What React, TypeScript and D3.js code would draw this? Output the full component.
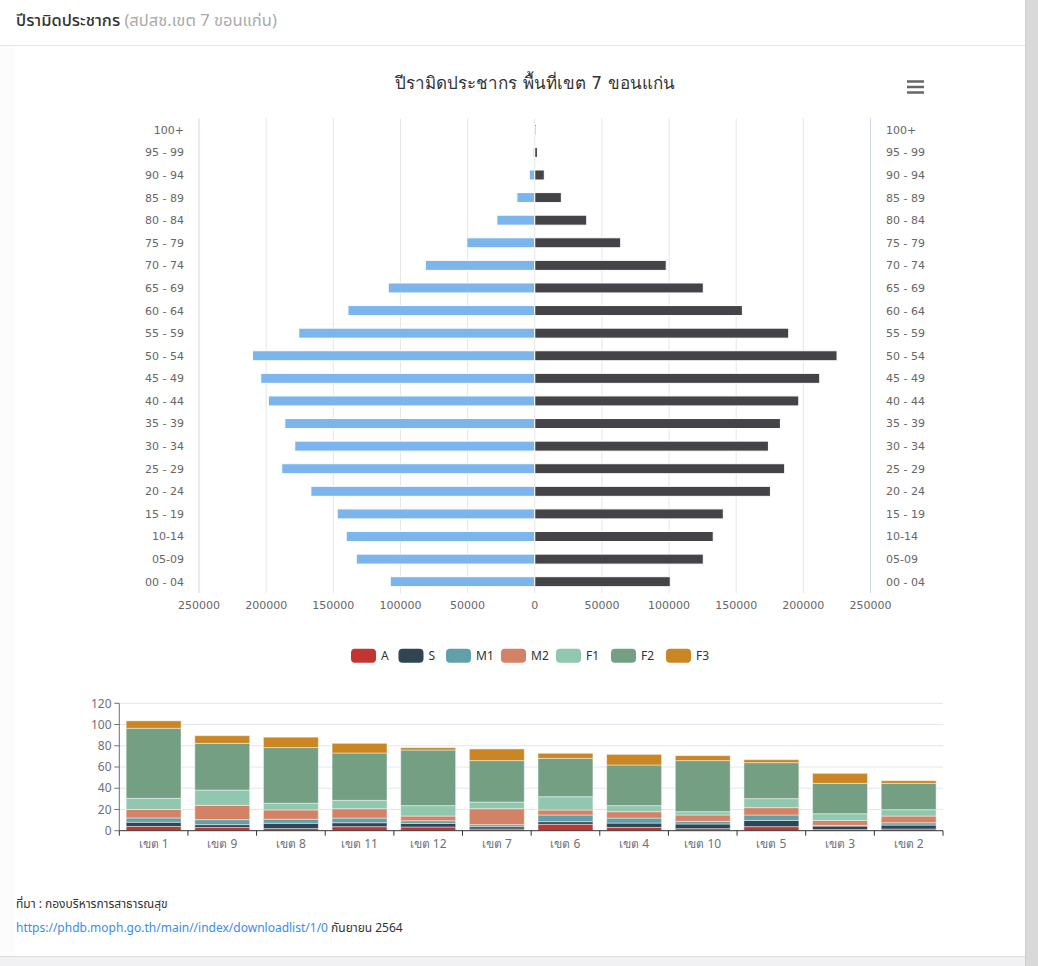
import React from "react";
import * as d3 from "d3";

// ---------- Pyramid data ----------
const ageGroups = [
  "100+", "95 - 99", "90 - 94", "85 - 89", "80 - 84", "75 - 79", "70 - 74",
  "65 - 69", "60 - 64", "55 - 59", "50 - 54", "45 - 49", "40 - 44", "35 - 39",
  "30 - 34", "25 - 29", "20 - 24", "15 - 19", "10-14", "05-09", "00 - 04",
];
const leftSeries = [
  700, 1200, 4100, 13300, 28200, 50600, 81500, 109100, 139100, 175700, 210200,
  204000, 198300, 186100, 178700, 188400, 166700, 147100, 140400, 132900, 107600,
];
const rightSeries = [
  800, 2000, 7100, 19800, 38700, 64000, 97900, 125500, 154600, 189100, 225100,
  212200, 196600, 182900, 174000, 186100, 175500, 140400, 132900, 125500, 100900,
];
const pyramidTicks = [-250000, -200000, -150000, -100000, -50000, 0, 50000, 100000, 150000, 200000, 250000];

// ---------- Stacked bar data ----------
const regions = ["เขต 1", "เขต 9", "เขต 8", "เขต 11", "เขต 12", "เขต 7", "เขต 6", "เขต 4", "เขต 10", "เขต 5", "เขต 3", "เขต 2"];
const seriesNames = ["A", "S", "M1", "M2", "F1", "F2", "F3"];
const valA = [4, 3, 2, 3.8, 3.5, 1.6, 6, 3.1, 1.9, 3.8, 1, 1.6];
const valS = [4, 2.7, 5, 3.7, 3.4, 2.2, 2.5, 4.1, 4.4, 5.9, 3.4, 3.7];
const valM1 = [4, 4.7, 3.8, 4.4, 2.5, 1.9, 6.3, 4.7, 2.5, 5.1, 0.6, 2.2];
const valM2 = [8, 13.5, 8.8, 8.8, 4.4, 15, 4.7, 6, 6, 6.9, 4.7, 6.3];
const valF1 = [10.5, 14.4, 6.3, 7.9, 9.8, 6.3, 12.5, 5.7, 3.1, 8.5, 6.3, 6];
const valF2 = [66, 44, 52.4, 44.6, 52.4, 39, 36.2, 38.3, 48.1, 33.9, 28.6, 24.8];
const valF3 = [7, 7.2, 9.8, 9.1, 2.2, 11, 4.7, 10, 4.7, 2.8, 9.4, 2.5];
const barTicks = [0, 20, 40, 60, 80, 100, 120];
const seriesColors = ["#c23531", "#2f4554", "#61a0a8", "#d48265", "#91c7ae", "#749f83", "#ca8622"];

const HC_FONT = '"DejaVu Sans", Verdana, sans-serif';
const EC_FONT = '"Noto Sans", "Open Sans", sans-serif';
const TH_FONT = '"Noto Sans", "Noto Sans Thai", sans-serif';

export default function App() {
  // Pyramid scales
  const px = d3.scaleLinear().domain([-250000, 250000]).range([199, 870.5]);
  const py = d3.scaleBand<string>().domain(ageGroups).range([118.5, 593]);
  const barH = 10;

  // Stacked bar scales
  const table = regions.map((r, i) => ({
    region: r,
    A: valA[i], S: valS[i], M1: valM1[i], M2: valM2[i], F1: valF1[i], F2: valF2[i], F3: valF3[i],
  }));
  const stack = d3.stack<any>().keys(seriesNames)(table);
  const bx = d3.scaleBand<string>().domain(regions).range([119.3, 943]).paddingInner(0.2).paddingOuter(0.1);
  const by = d3.scaleLinear().domain([0, 120]).range([830.7, 703.3]);
  const step = bx.step();
  const bandStart = 119.3;

  // legend layout
  const legendWidths = seriesNames.map((n) => 25 + 5 + n.length * 7.5);
  const legendTotal = legendWidths.reduce((a, b) => a + b, 0) + 10 * (seriesNames.length - 1);
  let lx = 531 - legendTotal / 2;
  const legendPos = legendWidths.map((w) => {
    const p = lx;
    lx += w + 10;
    return p;
  });

  return (
    <div style={{ position: "absolute", left: 0, top: 0, width: 1038, height: 966 }}>
      <svg width={1038} height={966} style={{ display: "block" }}>
        {/* page / card */}
        <rect x={0} y={0} width={1038} height={966} fill="#fcfcfc" />
        <rect x={0} y={0} width={1025} height={45} fill="#ffffff" />
        <line x1={0} x2={1025} y1={45.5} y2={45.5} stroke="#e6e6e6" />
        <rect x={15} y={46} width={1010} height={910} fill="#ffffff" />
        <rect x={1025} y={0} width={13} height={966} fill="#d9d9d9" />
        <line x1={1025.5} x2={1025.5} y1={0} y2={966} stroke="#cfcfcf" />
        <rect x={0} y={956} width={1025} height={10} fill="#f1f1f4" />
        <line x1={0} x2={1025} y1={956.5} y2={956.5} stroke="#dedede" />

        {/* header */}
        <text x={16} y={26} fontFamily={TH_FONT} fontSize={16.5} fontWeight={500} fill="#333">
          ปีรามิดประชากร <tspan fill="#aaaaaa" fontWeight={400}>(สปสช.เขต 7 ขอนแก่น)</tspan>
        </text>

        {/* pyramid title */}
        <text x={535} y={89} textAnchor="middle" fontFamily={HC_FONT} fontSize={17} fill="#333333">
          ปีรามิดประชากร พื้นที่เขต 7 ขอนแก่น
        </text>
        {/* menu icon */}
        <g stroke="#666666" strokeWidth={2.5}>
          {[81.5, 87, 92.5].map((y) => (
            <line key={y} x1={907} x2={924} y1={y} y2={y} />
          ))}
        </g>

        {/* pyramid grid */}
        {pyramidTicks.map((t) => (
          <line key={"g" + t} x1={px(t)} x2={px(t)} y1={118.5} y2={593}
            stroke={Math.abs(t) === 250000 ? "#ccd6eb" : "#e6e6e6"} strokeWidth={1} />
        ))}
        {/* pyramid bars */}
        {ageGroups.map((g, i) => {
          const cy = (py(g) as number) + py.bandwidth() / 2;
          return (
            <g key={g}>
              <rect x={px(-leftSeries[i])} y={cy - barH / 2} width={px(0) - px(-leftSeries[i])} height={barH}
                fill="#7cb5ec" stroke="#ffffff" strokeWidth={1} />
              <rect x={px(0)} y={cy - barH / 2} width={px(rightSeries[i]) - px(0)} height={barH}
                fill="#434348" stroke="#ffffff" strokeWidth={1} />
              <text x={184} y={cy} dy="0.36em" textAnchor="end" fontFamily={HC_FONT} fontSize={11} fill="#666666">{g}</text>
              <text x={886} y={cy} dy="0.36em" textAnchor="start" fontFamily={HC_FONT} fontSize={11} fill="#666666">{g}</text>
            </g>
          );
        })}
        {pyramidTicks.map((t) => (
          <text key={"t" + t} x={px(t)} y={609} textAnchor="middle" fontFamily={HC_FONT} fontSize={11} fill="#666666">
            {Math.abs(t)}
          </text>
        ))}

        {/* legend */}
        {seriesNames.map((n, i) => (
          <g key={n}>
            <rect x={legendPos[i]} y={648.7} width={25} height={14} rx={4} fill={seriesColors[i]} />
            <text x={legendPos[i] + 30} y={655.7} dy="0.35em" fontFamily={EC_FONT} fontSize={12} fill="#333">{n}</text>
          </g>
        ))}

        {/* bar chart grid */}
        {barTicks.map((t) => (
          <g key={"bt" + t}>
            {t !== 0 && <line x1={119.3} x2={943} y1={by(t)} y2={by(t)} stroke="#e0e6f1" />}
            <line x1={114.3} x2={119.3} y1={by(t)} y2={by(t)} stroke="#6e7079" />
            <text x={111.5} y={by(t)} dy="0.35em" textAnchor="end" fontFamily={EC_FONT} fontSize={12} fill="#6e7079">{t}</text>
          </g>
        ))}
        {/* stacked bars */}
        {stack.map((layer, si) => (
          <g key={layer.key} fill={seriesColors[si]}>
            {layer.map((d, i) => (
              <rect key={i} x={bx(regions[i])} y={by(d[1])} width={bx.bandwidth()} height={by(d[0]) - by(d[1])}
                stroke="rgba(255,255,255,0.45)" strokeWidth={1} />
            ))}
          </g>
        ))}
        {/* axes */}
        <line x1={119.3} x2={119.3} y1={703.3} y2={830.7} stroke="#6e7079" />
        <line x1={119.3} x2={943} y1={830.7} y2={830.7} stroke="#333" />
        {d3.range(regions.length + 1).map((k) => (
          <line key={"xt" + k} x1={bandStart + k * step} x2={bandStart + k * step} y1={830.7} y2={835.7} stroke="#333" />
        ))}
        {regions.map((r) => (
          <text key={r} x={(bx(r) as number) + bx.bandwidth() / 2} y={843.5} dy="0.35em" textAnchor="middle"
            fontFamily={EC_FONT} fontSize={12} fill="#6e7079">{r}</text>
        ))}

        {/* footer */}
        <text x={16} y={908} fontFamily={TH_FONT} fontSize={12} fill="#333">ที่มา : กองบริหารการสาธารณสุข</text>
        <text x={16} y={932} fontFamily={TH_FONT} fontSize={12} fill="#333">
          <tspan fill="#3b8ce8">https://phdb.moph.go.th/main//index/downloadlist/1/0</tspan> กันยายน 2564
        </text>
      </svg>
    </div>
  );
}
